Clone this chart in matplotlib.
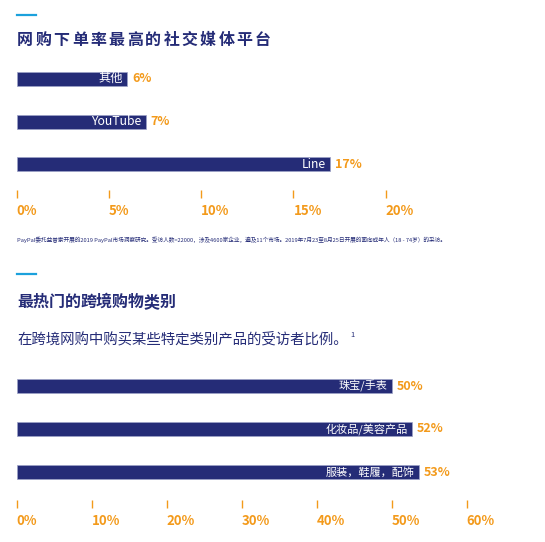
import matplotlib
matplotlib.use("Agg")
import matplotlib.pyplot as plt

plt.rcParams['font.family'] = ['Noto Sans CJK SC', 'DejaVu Sans']

# data
social_labels = ["其他", "YouTube", "Line"]
social_values = [6, 7, 17]
social_ticks = [0, 5, 10, 15, 20]

cat_labels = ["珠宝/手表", "化妆品/美容产品", "服装，鞋履，配饰"]
cat_values = [50, 52.7, 53.6]
cat_ticks = [0, 10, 20, 30, 40, 50, 60]

title1 = "网购下单率最高的社交媒体平台"
title2 = "最热门的跨境购物类别"
subtitle2 = "在跨境网购中购买某些特定类别产品的受访者比例。"
footnote = ("PayPal委托益普索开展的2019 PayPal市场洞察研究。受访人数=22000，涉及4600家企业，"
            "遍及11个市场。2019年7月23至8月25日开展的面向成年人（18 - 74岁）的采访。")

NAVY = "#252c77"
ORANGE = "#f39a1b"
ACCENT = "#1ba1dc"

W, H = 545, 542
fig = plt.figure(figsize=(W / 100, H / 100), dpi=100)


def fx(x):
    return x / W


def fy(y):
    return 1 - y / H


def spaced_title(text, x0, y, pitch):
    # draw one char at a time to get the wide letter spacing
    for i, ch in enumerate(text):
        fig.text(fx(x0 + i * pitch), fy(y), ch, fontsize=11.5, fontweight='heavy',
                 color=NAVY, va='center', ha='left')


def accent(y):
    fig.add_artist(plt.Line2D([fx(17), fx(36)], [fy(y), fy(y)], color=ACCENT, lw=1.6))


def bar_panel(top, bottom, x0, px_per, xmax, labels, values, ticks, lab_size):
    pitch = 43
    left = fx(x0)
    width = xmax * px_per / W
    ax = fig.add_axes([left, fy(bottom), width, (bottom - top) / H])
    ax.set_xlim(0, xmax)
    ax.set_ylim(-0.5 + (bottom - top) / pitch, -0.5)
    ypos = list(range(len(values)))
    ax.barh(ypos, values, height=14 / pitch, color=NAVY, edgecolor="#9da2c8", linewidth=0.5)
    for yp, v, lab in zip(ypos, values, labels):
        ax.text(v - 4 / px_per, yp, lab, color='white', fontsize=lab_size,
                ha='right', va='center')
        ax.text(v + 5 / px_per, yp, f"{int(v)}%", color=ORANGE, fontsize=9,
                fontweight='bold', ha='left', va='center')
    for s in ax.spines.values():
        s.set_visible(False)
    ax.set_yticks([])
    ax.set_xticks(ticks)
    ax.set_xticklabels([f"{t}%" for t in ticks], ha='left')
    ax.tick_params(axis='x', direction='in', length=6, width=1, color=ORANGE,
                   labelcolor=ORANGE, labelsize=9.5, pad=4)
    for t in ax.get_xticklabels():
        t.set_fontweight('bold')
    ax.patch.set_alpha(0)
    return ax


# section 1
accent(15)
spaced_title(title1, 17, 40, 18.3)
bar_panel(57, 198, 16.5, 18.46, 25, social_labels, social_values, social_ticks, 8.8)
fig.text(fx(17), fy(240), footnote, fontsize=4.1, color=NAVY, va='center', ha='left')

# section 2
accent(274)
spaced_title(title2, 17, 302, 15.8)
fig.text(fx(17), fy(339), subtitle2, fontsize=10.4, color=NAVY, va='center', ha='left')
fig.text(fx(350), fy(335), "1", fontsize=5.5, color=NAVY, va='center', ha='left')
bar_panel(364.5, 508, 16.5, 7.5, 62, cat_labels, cat_values, cat_ticks, 8)

fig.savefig("out.png", dpi=100, facecolor='white')
